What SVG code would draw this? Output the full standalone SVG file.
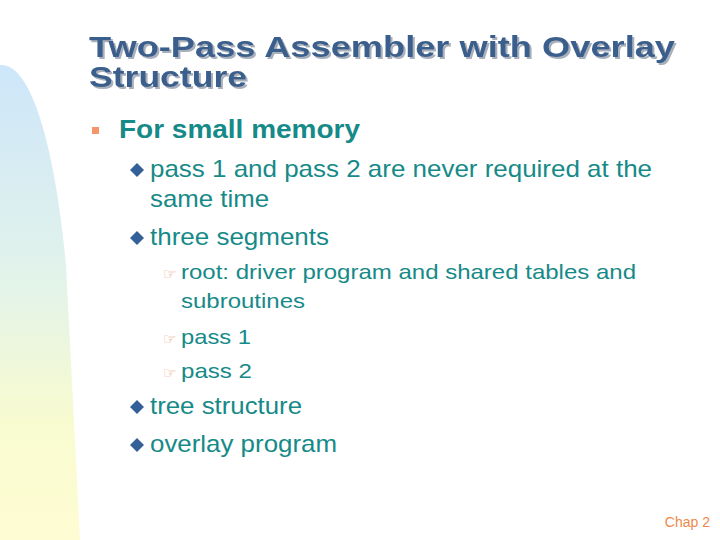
<svg xmlns="http://www.w3.org/2000/svg" width="720" height="540" viewBox="0 0 720 540">
<defs>
<linearGradient id="bg" x1="0" y1="0" x2="0" y2="1">
<stop offset="0" stop-color="#cde6fa"/>
<stop offset="0.45" stop-color="#e2f3ea"/>
<stop offset="0.75" stop-color="#f8fbd0"/>
<stop offset="1" stop-color="#fefcd2"/>
</linearGradient>
<filter id="sh" x="-5%" y="-20%" width="110%" height="140%">
<feDropShadow dx="2" dy="2" stdDeviation="0.3" flood-color="#a8b0bc"/>
</filter>
</defs>
<style>
.t{font-family:"Liberation Sans",Arial,sans-serif;font-weight:bold;font-size:30px;fill:#3b5e8c}
.l1{font-family:"Liberation Sans",Arial,sans-serif;font-weight:bold;font-size:25px;fill:#168a88}
.l2{font-family:"Liberation Sans",Arial,sans-serif;font-size:24px;fill:#168a88}
.l3{font-family:"Liberation Sans",Arial,sans-serif;font-size:21px;fill:#168a88}
.hand{font-family:"DejaVu Sans",sans-serif;font-size:15px;fill:#f0a080}
.dia{fill:#34609a}
</style>
<rect width="720" height="540" fill="#ffffff"/>
<path d="M0,65 C25,62 52,120 66,265 L80,540 L0,540 Z" fill="url(#bg)"/>
<g id="title" filter="url(#sh)">
<text class="t" x="89" y="57" textLength="586" lengthAdjust="spacingAndGlyphs">Two-Pass Assembler with Overlay</text>
<text class="t" x="89" y="87" textLength="158" lengthAdjust="spacingAndGlyphs">Structure</text>
</g>
<g id="body">
<rect x="92" y="127" width="7" height="7" fill="#f4956a"/>
<text class="l1" x="119" y="138" textLength="241" lengthAdjust="spacingAndGlyphs">For small memory</text>
<path class="dia" d="M137,163 l7,7 l-7,7 l-7,-7 Z"/>
<text class="l2" x="150" y="177" textLength="502" lengthAdjust="spacingAndGlyphs">pass 1 and pass 2 are never required at the</text>
<text class="l2" x="150" y="207" textLength="119" lengthAdjust="spacingAndGlyphs">same time</text>
<path class="dia" d="M137,231 l7,7 l-7,7 l-7,-7 Z"/>
<text class="l2" x="150" y="245" textLength="179" lengthAdjust="spacingAndGlyphs">three segments</text>
<text class="hand" x="163" y="279">☞</text>
<text class="l3" x="181" y="279" textLength="455" lengthAdjust="spacingAndGlyphs">root: driver program and shared tables and</text>
<text class="l3" x="181" y="308" textLength="124" lengthAdjust="spacingAndGlyphs">subroutines</text>
<text class="hand" x="163" y="344">☞</text>
<text class="l3" x="181" y="344" textLength="70" lengthAdjust="spacingAndGlyphs">pass 1</text>
<text class="hand" x="163" y="378">☞</text>
<text class="l3" x="181" y="378" textLength="71" lengthAdjust="spacingAndGlyphs">pass 2</text>
<path class="dia" d="M137,400 l7,7 l-7,7 l-7,-7 Z"/>
<text class="l2" x="150" y="414" textLength="152" lengthAdjust="spacingAndGlyphs">tree structure</text>
<path class="dia" d="M137,438 l7,7 l-7,7 l-7,-7 Z"/>
<text class="l2" x="150" y="452" textLength="187" lengthAdjust="spacingAndGlyphs">overlay program</text>
</g>
<text x="710" y="527" text-anchor="end" font-family="Liberation Sans,Arial,sans-serif" font-size="14" fill="#f0884a">Chap 2</text>
</svg>
